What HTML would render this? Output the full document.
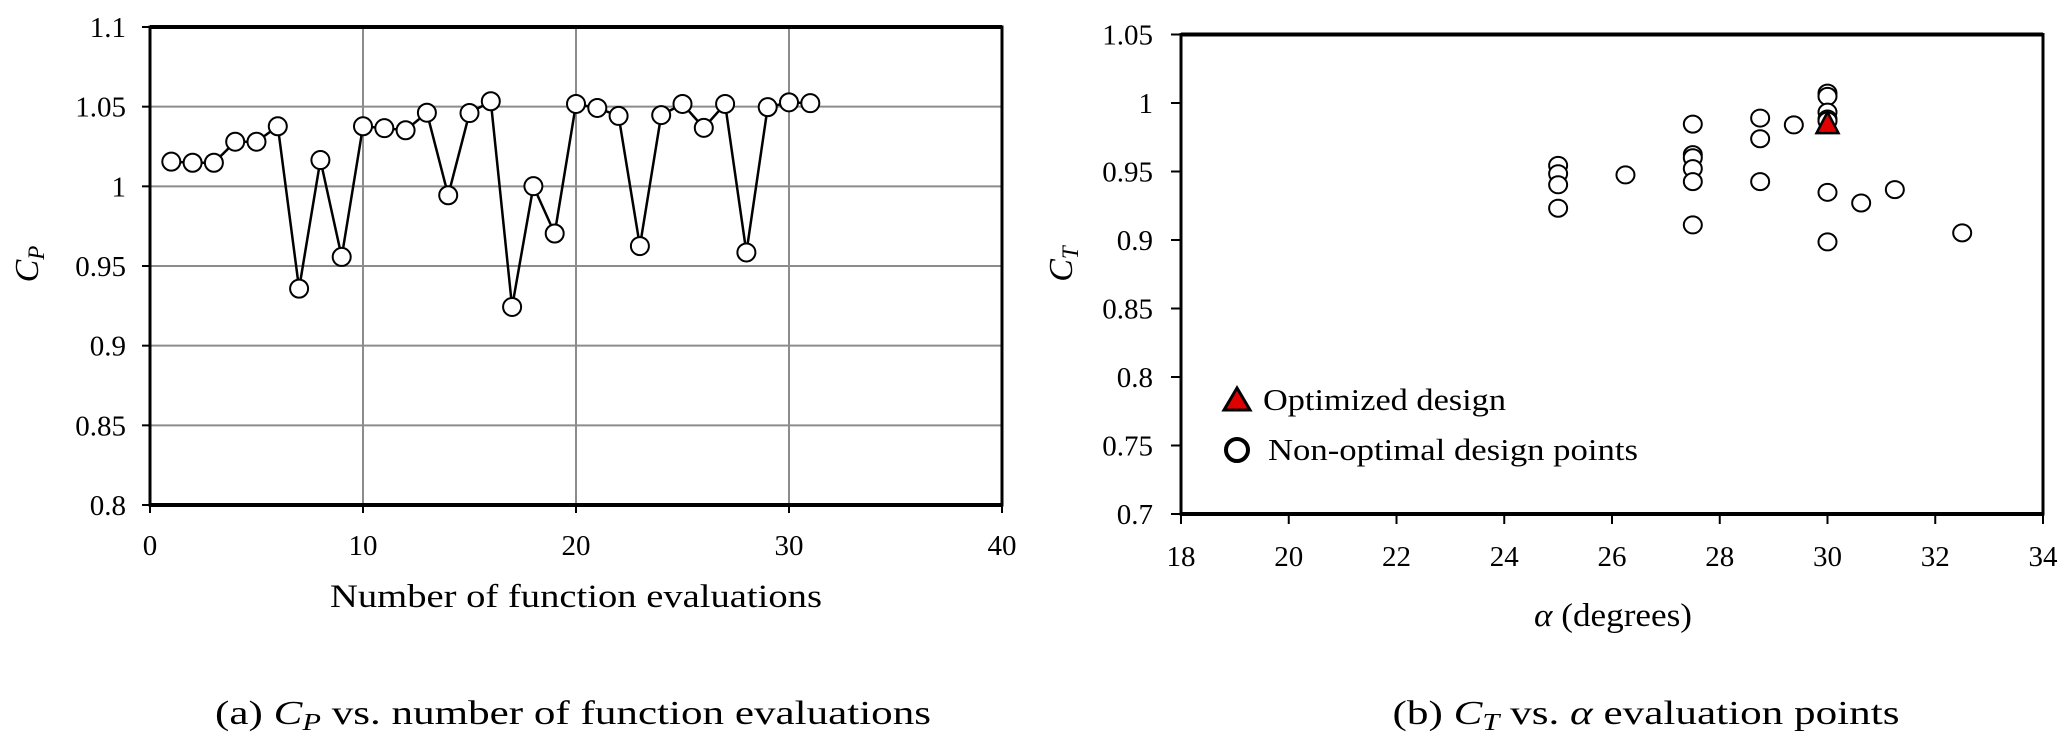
<!DOCTYPE html>
<html><head><meta charset="utf-8"><style>
html,body{margin:0;padding:0;background:#fff;}
svg{display:block;font-family:"Liberation Serif",serif;}
</style></head><body>
<svg id="fig" width="2065" height="738" viewBox="0 0 2065 738" xmlns="http://www.w3.org/2000/svg">
<g id="left"></g>
<g id="right"></g>
<text x="573" y="724" text-anchor="middle" font-size="34" textLength="716" lengthAdjust="spacingAndGlyphs">(a) <tspan font-style="italic">C</tspan><tspan font-style="italic" font-size="24" dy="6">P</tspan><tspan dy="-6"> vs. number of function evaluations</tspan></text>
<text x="1646" y="724" text-anchor="middle" font-size="34" textLength="507" lengthAdjust="spacingAndGlyphs">(b) <tspan font-style="italic">C</tspan><tspan font-style="italic" font-size="24" dy="6">T</tspan><tspan dy="-6"> vs. </tspan><tspan font-style="italic">α</tspan> evaluation points</text>
</svg>
<script>
const NS="http://www.w3.org/2000/svg";
// Left chart data
const cpEvals=[1,2,3,4,5,6,7,8,9,10,11,12,13,14,15,16,17,18,19,20,21,22,23,24,25,26,27,28,29,30,31];
const cpValues=[1.0155,1.0148,1.0148,1.028,1.028,1.0377,0.9358,1.0165,0.9557,1.0377,1.0365,1.0352,1.0462,0.9944,1.046,1.0534,0.9243,1.0001,0.9704,1.0517,1.0492,1.0442,0.9625,1.0447,1.0517,1.0367,1.0517,0.9585,1.0497,1.0527,1.0522];
const cpXTicks=[0,10,20,30,40];
const cpYTicks=["0.8","0.85","0.9","0.95","1","1.05","1.1"];
// Right chart data
const ctAlpha=[25,25,25,25,26.25,27.5,27.5,27.5,27.5,27.5,27.5,28.75,28.75,28.75,29.375,30,30,30,30,30,30,30,30.625,31.25,32.5];
const ctValues=[0.9545,0.9484,0.9403,0.9232,0.9475,0.9846,0.9623,0.96,0.9521,0.9426,0.911,0.989,0.9739,0.9426,0.984,1.0072,1.0048,0.9933,0.9883,0.9869,0.9348,0.8986,0.927,0.9368,0.9052];
const optAlpha=[30];
const optValue=[0.9846];
const ctXTicks=[18,20,22,24,26,28,30,32,34];
const ctYTicks=["0.7","0.75","0.8","0.85","0.9","0.95","1","1.05"];

function mk(parent,tag,attrs,text){const e=document.createElementNS(NS,tag);for(const k in attrs)e.setAttribute(k,attrs[k]);if(text!==undefined)e.textContent=text;parent.appendChild(e);return e;}

// LEFT
const L=document.getElementById('left');
const lx=v=>150+(v-0)/40*(1002-150);
const ly=v=>27+(1.1-v)/0.3*(505-27);
cpXTicks.forEach(t=>{
  if(t>0&&t<40){const g=mk(L,'line',{x1:lx(t),x2:lx(t),y1:27,y2:505,stroke:'#8c8c8c','stroke-width':2});
  
  }
  const tk=mk(L,'line',{x1:lx(t),x2:lx(t),y1:505,y2:513,stroke:'#000','stroke-width':2});
  
  
  const lb=mk(L,'text',{x:lx(t),y:555,'text-anchor':'middle','font-size':29},String(t));
  
  
});
cpYTicks.forEach(s=>{const v=parseFloat(s);
  if(v>0.8&&v<1.1){const g=mk(L,'line',{x1:150,x2:1002,y1:ly(v),y2:ly(v),stroke:'#8c8c8c','stroke-width':2});
  
  }
  const tk=mk(L,'line',{x1:142,x2:150,y1:ly(v),y2:ly(v),stroke:'#000','stroke-width':2});
  
  
  const lb=mk(L,'text',{x:126,y:ly(v)+10,'text-anchor':'end','font-size':29},s);
  
  
});
let fr=mk(L,'rect',{x:150,y:27,width:852,height:478,fill:'none',stroke:'#000','stroke-width':3});


let tb=mk(L,'line',{x1:150,x2:1002,y1:27,y2:27,stroke:'#000','stroke-width':4});


let bb=mk(L,'line',{x1:150,x2:1002,y1:505,y2:505,stroke:'#000','stroke-width':4});


const pts=cpEvals.map((e,i)=>lx(e)+','+ly(cpValues[i])).join(' ');
const pl=mk(L,'polyline',{points:pts,fill:'none',stroke:'#000','stroke-width':2.5});


cpEvals.forEach((e,i)=>{const c=mk(L,'ellipse',{cx:lx(e),cy:ly(cpValues[i]),rx:9,ry:9,fill:'#fff',stroke:'#000','stroke-width':2});
  
  });
let xt=mk(L,'text',{x:576,y:607,'text-anchor':'middle','font-size':33,textLength:492,lengthAdjust:'spacingAndGlyphs'},'Number of function evaluations');


let yt=mk(L,'text',{x:0,y:0,'font-size':34,'font-style':'italic','text-anchor':'middle',transform:'translate(38,264) rotate(-90)'});
yt.innerHTML='C<tspan font-size="23" dy="6">P</tspan>';



// RIGHT
const R=document.getElementById('right');
const rx=v=>1181+(v-18)/16*(2043-1181);
const ry=v=>34.5+(1.05-v)/0.35*(514-34.5);
ctXTicks.forEach(t=>{
  const tk=mk(R,'line',{x1:rx(t),x2:rx(t),y1:514,y2:524,stroke:'#000','stroke-width':2});
  
  
  const lb=mk(R,'text',{x:rx(t),y:566,'text-anchor':'middle','font-size':29},String(t));
  
  
});
ctYTicks.forEach(s=>{const v=parseFloat(s);
  const tk=mk(R,'line',{x1:1171,x2:1181,y1:ry(v),y2:ry(v),stroke:'#000','stroke-width':2});
  
  
  const lb=mk(R,'text',{x:1153,y:ry(v)+10,'text-anchor':'end','font-size':29},s);
  
  
});
let rf=mk(R,'rect',{x:1181,y:34.5,width:862,height:479.5,fill:'none',stroke:'#000','stroke-width':3});


let rtb=mk(R,'line',{x1:1181,x2:2043,y1:34.5,y2:34.5,stroke:'#000','stroke-width':4});


let rbb=mk(R,'line',{x1:1181,x2:2043,y1:514,y2:514,stroke:'#000','stroke-width':4});


ctAlpha.forEach((a,i)=>{const c=mk(R,'ellipse',{cx:rx(a),cy:ry(ctValues[i]),rx:9,ry:8.5,fill:'#fff',stroke:'#000','stroke-width':2});
  
  });
optAlpha.forEach((a,i)=>{const cx=rx(a),cy=ry(optValue[i]);
  const t=mk(R,'polygon',{points:`${cx},${cy-12} ${cx-11},${cy+9} ${cx+11},${cy+9}`,fill:'#e00000',stroke:'#000','stroke-width':2.5});
  
  });
// legend
let lt=mk(R,'polygon',{points:'1237,388 1224,410 1250,410',fill:'#e00000',stroke:'#000','stroke-width':3});


let ltx=mk(R,'text',{x:1263,y:410,'font-size':31,textLength:243,lengthAdjust:'spacingAndGlyphs'},'Optimized design');


let lc=mk(R,'circle',{cx:1237,cy:450,r:11,fill:'#fff',stroke:'#000','stroke-width':4});


let lcx=mk(R,'text',{x:1268,y:460,'font-size':31,textLength:370,lengthAdjust:'spacingAndGlyphs'},'Non-optimal design points');


let rxt=mk(R,'text',{x:1613,y:626,'text-anchor':'middle','font-size':33,textLength:158,lengthAdjust:'spacingAndGlyphs'});
rxt.innerHTML='<tspan font-style="italic">α</tspan> (degrees)';


let ryt=mk(R,'text',{x:0,y:0,'font-size':34,'font-style':'italic','text-anchor':'middle',transform:'translate(1072,264) rotate(-90)'});
ryt.innerHTML='C<tspan font-size="23" dy="6">T</tspan>';


</script>
</body></html>
